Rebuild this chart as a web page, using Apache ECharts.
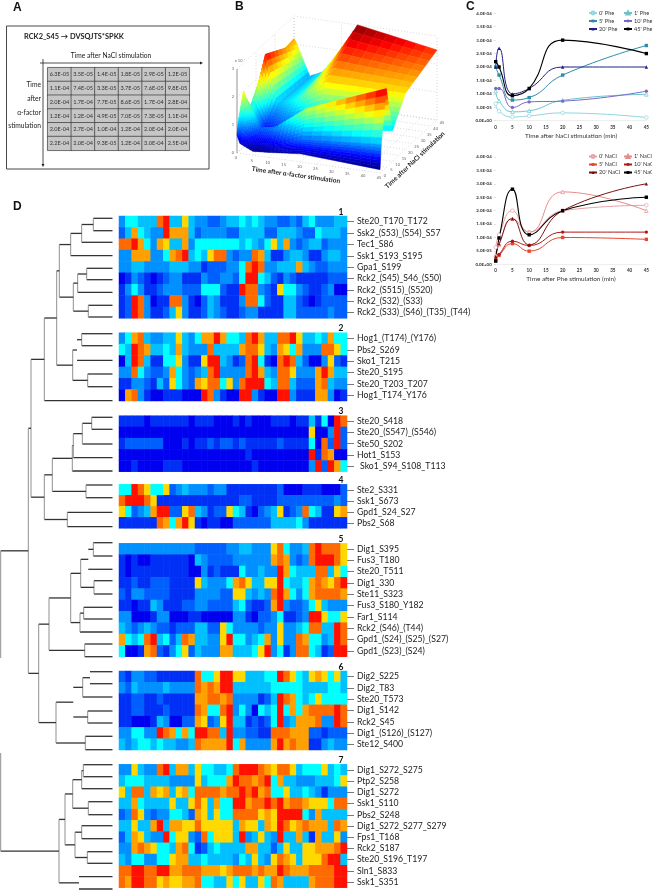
<!DOCTYPE html>
<html><head><meta charset="utf-8">
<style>html,body{margin:0;padding:0;background:#fff}#c{width:652px;height:890px}</style>
<script src="https://cdn.jsdelivr.net/npm/echarts@6/dist/echarts.min.js"></script>
</head><body><div id="c"></div>
<script>
// ---------- Panel A / C / B data (rows: alpha-factor time, columns: NaCl time)
const times = [0,1,5,10,20,45];
const phe0  = [6.3e-5,3.5e-5,1.4e-5,1.8e-5,2.9e-5,1.2e-5];
const phe1  = [1.1e-4,7.4e-5,3.3e-5,3.7e-5,7.6e-5,9.8e-5];
const phe5  = [2.0e-4,1.7e-4,7.7e-5,8.6e-5,1.7e-4,2.8e-4];
const phe10 = [1.2e-4,1.2e-4,4.9e-5,7.0e-5,7.3e-5,1.1e-4];
const phe20 = [2.0e-4,2.7e-4,1.0e-4,1.2e-4,2.0e-4,2.0e-4];
const phe45 = [2.2e-4,2.0e-4,9.3e-5,1.2e-4,3.0e-4,2.5e-4];
const tableRows = [phe0,phe1,phe5,phe10,phe20,phe45];
const zTicks = [0,1,2,3];
const timeTicks = [0,5,10,15,20,25,30,35,40,45];
const wallTicks = [0,15,30,45];

// ---------- Panel D heatmap (colour level 0-9), 36 conditions
const labels1 = ['Ste20_T170_T172','Ssk2_(S53)_(S54)_S57','Tec1_S86','Ssk1_S193_S195','Gpa1_S199','Rck2_(S45)_S46_(S50)','Rck2_(S515)_(S520)','Rck2_(S32)_(S33)','Rck2_(S33)_(S46)_(T35)_(T44)'];
const hm1 = [
[3,5,5,4,4,4, 8,9,4,4,6,4, 3,3,2,2,3,4, 4,5,4,5,4,3, 3,2,2,3,2,4, 5,3,3,3,4,4],
[2,4,7,5,4,3, 3,9,7,7,7,4, 2,3,3,3,3,2, 2,4,4,4,4,2, 2,4,4,4,3,2, 2,5,4,4,4,3],
[8,8,9,7,5,3, 7,6,4,4,7,3, 5,5,5,5,5,5, 5,4,5,4,3,5, 6,4,7,3,2,3, 4,4,2,3,3,3],
[3,3,7,7,7,3, 3,5,7,8,9,4, 5,4,6,8,8,3, 2,3,3,8,7,4, 1,1,3,4,4,3, 1,1,3,4,4,3],
[3,3,4,4,3,3, 3,3,4,4,4,3, 3,1,2,2,2,3, 3,5,8,9,8,3, 3,4,4,4,7,4, 3,2,2,3,3,3],
[0,1,3,2,1,0, 1,2,3,3,1,1, 1,3,2,2,3,3, 2,5,9,9,5,4, 2,1,3,2,1,1, 1,1,1,2,2,2],
[1,3,5,3,1,1, 2,3,3,3,2,2, 2,5,5,5,2,1, 1,9,8,8,3,2, 1,6,5,5,3,2, 1,1,2,3,0,0],
[1,2,9,8,3,0, 1,1,8,8,3,1, 0,2,4,3,1,1, 1,3,8,8,5,2, 1,1,4,4,2,1, 0,1,2,2,2,2],
[1,2,9,8,3,1, 1,2,4,6,3,1, 1,2,4,3,2,1, 1,2,3,3,1,1, 1,1,4,4,2,2, 2,2,2,3,2,2]];
const labels2 = ['Hog1_(T174)_(Y176)','Pbs2_S269','Sko1_T215','Ste20_S195','Ste20_T203_T207','Hog1_T174_Y176'];
const hm2 = [
[3,5,7,8,4,3, 3,4,4,6,4,3, 5,7,7,9,7,5, 5,4,8,9,7,4, 4,8,8,9,6,4, 4,5,4,7,5,5],
[5,4,9,8,7,4, 4,5,4,7,4,3, 3,3,8,4,4,4, 4,7,8,8,6,4, 3,7,6,5,7,3, 3,3,8,8,6,5],
[0,4,9,8,4,1, 1,5,5,6,3,1, 1,6,9,9,4,3, 1,2,8,9,5,1, 0,8,9,8,4,2, 0,0,3,6,2,1],
[3,3,8,5,3,2, 2,3,7,5,3,2, 3,4,8,9,3,3, 3,3,8,9,7,4, 3,8,8,6,3,3, 3,7,9,7,4,4],
[1,1,3,3,2,1, 4,2,6,5,3,2, 7,6,8,8,5,6, 3,8,9,9,9,5, 4,8,8,4,2,2, 2,7,8,4,3,3],
[0,7,8,3,1,0, 0,1,1,1,0,0, 0,9,8,3,1,0, 0,9,9,3,1,0, 0,9,9,3,1,1, 1,7,7,3,0,1]];
const labels3 = ['Ste20_S418','Ste20_(S547)_(S546)','Ste50_S202','Hot1_S153','Sko1_S94_S108_T113'];
const hm3 = [
[1,1,1,1,0,1, 1,1,1,1,1,0, 1,1,1,0,0,0, 1,0,1,0,0,0, 1,1,1,0,1,1, 4,1,5,0,9,8],
[0,0,0,0,0,0, 0,0,0,0,0,0, 0,0,0,0,0,0, 0,0,0,0,0,0, 0,0,0,0,0,0, 6,0,0,3,9,2],
[1,2,2,2,2,2, 2,0,0,0,1,0, 1,1,2,1,2,2, 1,2,1,1,1,1, 1,2,1,1,1,1, 5,0,8,2,9,2],
[0,0,0,0,0,0, 0,0,0,0,0,0, 0,0,0,0,0,0, 0,0,1,0,0,0, 0,0,0,0,0,0, 9,1,8,7,0,0],
[0,0,1,0,0,0, 0,1,1,1,0,0, 0,0,0,0,0,0, 0,0,0,1,0,0, 0,0,0,0,0,0, 3,9,2,9,7,5]];
const labels4 = ['Ste2_S331','Ssk1_S673','Gpd1_S24_S27','Pbs2_S68'];
const hm4 = [
[5,5,9,8,6,5, 5,6,2,3,4,3, 3,3,2,3,3,1, 1,1,1,1,1,1, 1,2,0,0,0,1, 1,1,0,0,0,2],
[8,9,9,9,8,6, 1,1,1,1,1,1, 1,1,1,1,1,1, 1,2,2,1,1,1, 1,2,2,2,2,2, 2,2,2,2,3,2],
[6,5,2,3,4,7, 9,9,2,2,6,8, 4,3,1,2,2,6, 5,4,1,0,2,3, 4,6,1,2,3,8, 5,4,1,1,6,7],
[1,1,1,1,1,1, 8,7,5,7,9,6, 1,0,1,1,0,0, 2,2,2,2,2,2, 4,4,4,4,5,3, 1,1,1,1,1,1]];
const labels5 = ['Dig1_S395','Fus3_T180','Ste20_T511','Dig1_330','Ste11_S323','Fus3_S180_Y182','Far1_S114','Rck2_(S46)_(T44)','Gpd1_(S24)_(S25)_(S27)','Gpd1_(S23)_(S24)'];
const hm5 = [
[3,3,3,3,3,3, 3,3,3,3,3,3, 2,2,2,2,2,3, 3,4,4,3,3,3, 6,8,5,3,3,4, 8,9,8,8,8,6],
[1,0,1,0,0,1, 1,1,1,1,1,0, 4,3,2,2,2,2, 3,3,3,3,3,3, 7,8,7,3,2,3, 8,9,9,9,8,6],
[1,0,1,1,1,1, 1,1,1,1,1,0, 0,3,1,2,1,1, 1,5,3,3,4,3, 3,9,7,5,4,4, 4,8,8,4,6,5],
[1,1,2,1,1,2, 2,2,1,1,1,1, 6,4,3,3,3,5, 7,8,6,4,4,6, 6,9,5,4,4,5, 7,8,7,6,8,9],
[2,1,3,3,2,2, 2,2,1,1,1,1, 3,3,3,3,2,2, 6,6,4,3,4,3, 8,9,7,5,3,5, 7,8,8,8,8,7],
[1,1,0,1,1,4, 3,1,1,1,2,2, 3,3,2,2,2,2, 4,5,2,1,1,2, 7,9,3,2,2,3, 5,6,4,3,3,3],
[3,3,0,0,0,1, 3,3,0,0,0,1, 1,0,0,0,0,0, 3,3,1,0,2,2, 3,5,1,1,2,3, 9,9,6,5,5,6],
[4,3,2,3,4,3, 2,2,1,2,2,2, 4,4,2,2,6,5, 3,3,3,3,2,3, 3,6,3,3,4,5, 8,8,4,4,9,8],
[7,5,4,5,8,9, 4,5,2,4,8,7, 4,4,3,3,6,9, 5,5,3,4,5,7, 3,6,3,3,8,7, 5,5,3,4,9,8],
[5,0,0,1,7,8, 2,1,3,5,6,2, 4,3,3,3,7,7, 4,4,4,5,6,9, 3,5,1,3,8,8, 5,4,1,2,9,9]];
const labels6 = ['Dig2_S225','Dig2_T83','Ste20_T573','Dig1_S142','Rck2_S45','Dig1_(S126)_(S127)','Ste12_S400'];
const hm6 = [
[2,1,3,3,2,2, 1,1,1,1,1,1, 8,5,5,6,9,9, 6,6,4,4,4,5, 5,9,8,6,5,4, 6,7,6,5,6,4],
[3,2,4,3,3,3, 3,4,3,3,3,3, 8,7,8,7,9,9, 4,4,4,4,4,4, 5,5,5,5,5,4, 4,4,4,5,5,4],
[1,1,2,2,1,1, 2,1,1,1,1,1, 7,7,8,8,7,8, 3,3,3,3,1,2, 4,9,8,7,5,4, 5,6,5,5,5,5],
[1,1,2,2,1,1, 1,2,1,1,1,1, 8,7,5,5,8,9, 3,5,3,0,5,4, 5,9,5,7,5,7, 8,8,8,8,9,8],
[1,1,0,0,0,1, 4,3,0,0,2,2, 7,6,2,3,6,9, 4,4,1,2,1,2, 5,9,3,4,7,7, 7,8,3,3,9,8],
[3,3,5,5,3,3, 9,8,7,5,7,5, 9,9,8,8,4,9, 3,3,2,2,1,1, 8,8,8,7,7,7, 2,2,1,2,2,2],
[4,3,4,5,5,4, 5,4,4,3,3,4, 8,7,7,7,7,9, 5,7,3,3,3,3, 7,9,7,8,7,7, 1,1,3,4,3,3]];
const labels7 = ['Dig1_S272_S275','Ptp2_S258','Dig1_S272','Ssk1_S110','Pbs2_S248','Dig1_S272_S277_S279','Fps1_T168','Rck2_S187','Ste20_S196_T197','Sln1_S833','Ssk1_S351'];
const hm7 = [
[3,3,6,4,3,3, 8,9,4,7,7,4, 6,5,5,4,4,5, 8,9,9,9,8,7, 6,8,8,6,4,5, 5,5,6,4,5,4],
[4,5,5,5,4,4, 4,4,3,3,3,3, 6,4,5,5,5,7, 9,8,8,7,8,9, 5,7,4,4,3,3, 3,4,4,4,5,6],
[6,4,8,8,4,7, 6,7,4,6,7,5, 8,8,8,8,7,8, 8,9,8,9,7,8, 5,5,6,4,4,5, 4,3,1,3,3,3],
[4,4,7,5,4,4, 4,4,6,4,4,6, 8,6,4,7,5,5, 9,9,7,8,8,9, 8,9,7,8,8,7, 6,6,6,5,8,8],
[2,3,8,6,3,2, 3,3,5,5,4,2, 7,6,4,6,5,5, 8,8,8,8,6,7, 6,9,9,9,9,5, 3,7,4,4,4,4],
[4,4,6,4,4,7, 9,4,7,7,6,6, 8,6,6,6,6,6, 4,7,6,6,4,7, 6,9,8,6,7,8, 7,7,7,4,8,7],
[2,4,7,6,4,3, 3,9,5,6,6,3, 2,8,5,6,6,6, 4,9,3,4,6,4, 3,9,4,4,7,4, 1,7,4,4,6,3],
[3,3,7,8,7,6, 5,5,4,7,8,5, 1,2,4,5,4,4, 4,4,7,7,4,4, 2,4,6,4,4,6, 6,7,7,7,8,9],
[4,3,5,5,3,3, 5,5,6,7,7,4, 4,5,4,4,4,4, 3,5,4,6,4,3, 6,8,7,6,4,6, 6,6,8,9,9,4],
[8,8,9,9,8,8, 9,9,7,7,8,8, 8,7,7,7,6,7, 8,8,8,7,8,7, 7,9,8,7,7,7, 8,8,8,8,9,9],
[8,7,9,9,8,8, 6,7,6,6,7,7, 8,5,5,4,4,6, 5,6,4,4,6,5, 8,7,4,4,4,4, 7,8,8,8,9,9]];

// ---------- Dendrogram: leaf rows and merge heights
const treeLeafY = [218.3,230.7,242.3,255.7,268.3,279.7,292.3,305.3,317,333.7,345.7,360.3,374,386.7,400.7,417.3,429.3,444,457.7,471,485,497.7,512.3,526.7,
 542.7,556,569.3,580.7,594,607.3,619,632,644,656.7,671.7,683.7,697,711,723,736.3,749.7,764.7,776.7,788.7,801.7,814.7,825.7,838.7,851.7,863.3,876.7,889];
const treeMerges =
[0.7,
 [28.3,
  [31,
   [44.3,
    [56.7,
     [59.3,
      [70.7,[81.7,[93.3,0,1],2],3],
      [73.3,[77.7,[86.7,4,5],6],[88.3,7,8]]],
     [72.7,[77,[81.7,9,10],11,1],[87.7,12,13]]],
    14],
   [44.3,
    [52.3,[72.3,[73.3,[82.3,[91.7,15,16],17],18],19],[86,20,21]],
    [67.3,22,23]]],
  [38.7,
   [49,
    [70.7,
     [80.7,[88.3,[93.3,24,25],26,1],[94,27,28]],
     [80,[83.7,29,30],31]],
    [84.7,32,33]],
   [56,
    [73.3,[82.7,[90,34,35,1],36],[87.7,37,38],1],
    [85.3,39,40]]]],
 [59,
  [65,
   [72.7,[81.7,[83.3,41,42],43],[88.3,44,45]],
   [75,[81.7,46,47],[87.3,48,49]]],
  [79,50,51,1]]];

// ---------- Helpers
const FONT='Lato';
const fmtE=v=>{const [m,e]=Number(v).toExponential(1).split('e');const n=parseInt(e);return m+'E'+(n<0?'-':'+')+String(Math.abs(n)).padStart(2,'0');};
const jet=t=>{t=Math.max(0,Math.min(1,t));
 const ch=o=>Math.round(255*Math.max(0,Math.min(1,1.5-Math.abs(4*t-o))));
 return `rgb(${ch(3)},${ch(2)},${ch(1)})`;};

// ---------- Grids
const grid=[], xAxis=[], yAxis=[], series=[], graphicEls=[];
function addGrid(g,x,y){grid.push(g);xAxis.push(Object.assign({gridIndex:grid.length-1},x));yAxis.push(Object.assign({gridIndex:grid.length-1},y));return grid.length-1;}

// Panel A table
const gT=addGrid({left:47.7,top:67.7,width:141.6,height:82.6},
 {type:'category',data:times.map(String),show:false},
 {type:'category',data:times.map(String),inverse:true,show:false});
const tableData=[];tableRows.forEach((r,j)=>r.forEach((v,i)=>tableData.push([i,j,v])));
series.push({type:'heatmap',xAxisIndex:gT,yAxisIndex:gT,data:tableData,silent:true,
 itemStyle:{color:'#c6c6c6',borderColor:'#3a3a3a',borderWidth:0.7},
 label:{show:true,fontFamily:FONT,fontSize:5.6,color:'#333',formatter:p=>fmtE(p.value[2])}});

// Overlay in picture units for tree and 3-D surface
const gO=addGrid({left:0,top:0,width:652,height:890},
 {type:'value',min:0,max:652,show:false},
 {type:'value',min:0,max:890,inverse:true,show:false});

// Dendrogram
const segs=[];
function walk(n,parentH){
 if(typeof n==='number'){const y=treeLeafY[n];segs.push([112.5,y,parentH,y,0]);return y;}
 const [h,a,b,hide]=n;const ya=walk(a,h),yb=walk(b,h);
 if(!hide)segs.push([h,ya,h,yb,1]);
 const y=(ya+yb)/2;
 if(parentH!=null)segs.push([h,y,parentH,y,0]);
 return y;
}
walk(treeMerges,null);
series.push({type:'custom',xAxisIndex:gO,yAxisIndex:gO,coordinateSystem:'cartesian2d',silent:true,clip:false,
 data:segs,renderItem:(p,api)=>{
  const a=api.coord([api.value(0),api.value(1)]),b=api.coord([api.value(2),api.value(3)]),v=api.value(4);
  return {type:'line',shape:{x1:a[0],y1:a[1],x2:b[0],y2:b[1]},style:{stroke:v?'#8f8f8f':'#333',lineWidth:v?1:1.3}};
 }});

// 3-D surface (panel B): same table as panel A, height-field drawn far to near
const O=[237,153],U=[143,20],V=[57,-53],ZH=84/3e-4;
const proj=(u,v,z)=>[O[0]+U[0]*u/45+V[0]*v/45, O[1]+U[1]*u/45+V[1]*v/45-ZH*z];
const zs=tableRows.flat(),zmin=Math.min(...zs),zmax=Math.max(...zs);
series.push({type:'custom',xAxisIndex:gO,yAxisIndex:gO,coordinateSystem:'cartesian2d',silent:true,clip:false,
 data:[[0,0]],renderItem:(p,api)=>{
  const c=[],P=(a,b,z)=>api.coord(proj(a,b,z));
  const dot={stroke:'#c0c0c0',lineWidth:0.6,lineDash:[1,2],fill:null};
  const L=(pa,pb,st)=>c.push({type:'line',shape:{x1:pa[0],y1:pa[1],x2:pb[0],y2:pb[1]},style:st||dot});
  const T=(pa,s,dx,dy)=>c.push({type:'text',x:pa[0]+dx,y:pa[1]+dy,style:{text:s,fontSize:4,fontFamily:FONT,fill:'#666',align:'center',verticalAlign:'middle'}});
  zTicks.forEach(z=>{L(P(0,0,z*1e-4),P(0,45,z*1e-4));L(P(0,45,z*1e-4),P(45,45,z*1e-4));});
  timeTicks.forEach(t=>{
   L(P(0,t,0),P(45,t,0));L(P(t,0,0),P(t,45,0));
   T(P(t,0,0),String(t),-1,5);T(P(45,t,0),String(t),5,3);
  });
  wallTicks.forEach(t=>{L(P(0,t,0),P(0,t,3e-4));L(P(t,45,0),P(t,45,3e-4));});
  zTicks.forEach(z=>T(P(0,0,z*1e-4),String(z),-4,0));
  T(P(0,0,3e-4),'x 10⁻⁴',3,-8);
  L(P(0,0,0),P(0,0,3e-4),{stroke:'#bdbdbd',lineWidth:1.6,fill:null});
  // interpolated facets, strip by strip from the far edge to the near edge
  const N=8;
  const pt=(i,j,s,t)=>{const x=times[i]+(times[i+1]-times[i])*s,y=times[j]+(times[j+1]-times[j])*t;
    const z=(1-s)*(1-t)*tableRows[j][i]+s*(1-t)*tableRows[j][i+1]+(1-s)*t*tableRows[j+1][i]+s*t*tableRows[j+1][i+1];
    return [x,y,z];};
  for(let j=4;j>=0;j--)for(let b=N-1;b>=0;b--)for(let i=0;i<5;i++)for(let a=0;a<N;a++){
   const q=[pt(i,j,a/N,b/N),pt(i,j,(a+1)/N,b/N),pt(i,j,(a+1)/N,(b+1)/N),pt(i,j,a/N,(b+1)/N)];
   const cz=q.reduce((s,k)=>s+k[2],0)/4,col=jet((cz-zmin)/(zmax-zmin));
   c.push({type:'polygon',shape:{points:q.map(k=>P(k[0],k[1],k[2]))},style:{fill:col,stroke:col,lineWidth:0.5}});
  }
  return {type:'group',children:c};
 }});

// Panel C line charts
function lineChart(top,height,title,names,colors,rows,xs){
 const g=addGrid({left:495.7,top,width:150.8,height},
  {type:'value',min:0,max:45,interval:5,name:title,nameLocation:'middle',nameGap:12,
   nameTextStyle:{fontFamily:FONT,fontSize:6.4,color:'#333'},
   axisLine:{onZero:false,lineStyle:{color:'#ddd',width:0.5}},axisTick:{show:false},splitLine:{show:false},
   axisLabel:{fontFamily:FONT,fontSize:4.6,fontWeight:'bold',color:'#333',margin:4}},
  {type:'value',min:0,max:4e-4,interval:5e-5,
   axisLine:{show:false},axisTick:{show:true,length:2,lineStyle:{color:'#bbb',width:0.5}},splitLine:{show:false},
   axisLabel:{fontFamily:FONT,fontSize:4.4,fontWeight:'bold',color:'#333',margin:4,formatter:fmtE}});
 const syms=['circle','triangle','rect','circle','triangle','rect'];
 rows.forEach((r,i)=>series.push({type:'line',name:names[i],xAxisIndex:g,yAxisIndex:g,smooth:0.5,silent:true,
  data:r.map((v,k)=>[xs[k],v]),symbol:syms[i],symbolSize:i<2?3.6:3.4,
  lineStyle:{color:colors[i],width:i===5?1.1:1},
  itemStyle:i<2?{color:'#fff',borderColor:colors[i],borderWidth:0.7}:{color:colors[i]}}));
 return g;
}
const pheNames=["0' Phe","1' Phe","5' Phe","10' Phe","20' Phe","45' Phe"];
const naclNames=["0' NaCl","1' NaCl","5' NaCl","10' NaCl","20' NaCl","45' NaCl"];
const pheColors=['#8fd6e2','#6cc4c8','#2e8ca8','#7a68c8','#1f1f86','#000000'];
const naclColors=['#e8a0a8','#e88a88','#e8452a','#b01818','#7a1010','#000000'];
lineChart(13.3,107.4,'Time after NaCl stimulation (min)',pheNames,pheColors,tableRows,times);
lineChart(157,107.3,'Time after Phe stimulation (min)',naclNames,naclColors,times.map((_,c)=>tableRows.map(r=>r[c])),times);
const leg=(left,top,data)=>({left,top,orient:'vertical',data,itemWidth:8,itemHeight:3.6,itemGap:2,padding:0,selectedMode:false,
 textStyle:{fontFamily:FONT,fontSize:5.6,color:'#333',padding:[0,0,0,-3]}});
const legend=[leg(588,10,[pheNames[0],pheNames[2],pheNames[4]]),leg(623,10,[pheNames[1],pheNames[3],pheNames[5]]),
 leg(588,153.5,[naclNames[0],naclNames[2],naclNames[4]]),leg(623,153.5,[naclNames[1],naclNames[3],naclNames[5]])];

// Panel D heat strips
const clusters=[[labels1,hm1,216,102.3],[labels2,hm2,332.7,68.3],[labels3,hm3,415.7,56],[labels4,hm4,484.3,44],[labels5,hm5,543.3,113.4],[labels6,hm6,671,79],[labels7,hm7,764.3,123.4]];
const heatIdx=[];
const colIdx=Array.from({length:36},(_,i)=>String(i+1));
clusters.forEach(([lab,hm,top,h],ci)=>{
 const g=addGrid({left:119,width:228,top,height:h},
  {type:'category',data:colIdx,show:false},
  {type:'category',data:lab,inverse:true,position:'right',
   axisLine:{show:false},axisTick:{show:true,length:7,alignWithLabel:true,lineStyle:{color:'#555',width:0.8}},
   axisLabel:{interval:0,fontFamily:FONT,fontSize:8.7,color:'#222',margin:10,
    formatter:v=>v==='Sko1_S94_S108_T113'?'{s|'+v+'}':v,rich:{s:{fontFamily:FONT,fontSize:8.7,color:'#222',padding:[0,0,0,3]}}}});
 const d=[];hm.forEach((r,j)=>r.forEach((v,i)=>d.push([i,j,v])));
 heatIdx.push(series.length);
 series.push({type:'heatmap',xAxisIndex:g,yAxisIndex:g,data:d,silent:true,progressive:0});
 graphicEls.push({type:'text',x:341,y:top-4,z:50,style:{text:String(ci+1),fontFamily:FONT,fontWeight:'bold',fontSize:8.5,fill:'#111',align:'center',verticalAlign:'middle'}});
});

// Chrome: panel letters, frame, arrows, captions
const txt=(x,y,s,o)=>graphicEls.push({type:'text',x,y,z:50,rotation:(o&&o.rot)||0,style:Object.assign({text:s,fontFamily:FONT,fontSize:6.6,fill:'#222',align:'left',verticalAlign:'middle'},o||{})});
[['A',13,8],['B',235,7],['C',466,7],['D',13,207]].forEach(([s,x,y])=>txt(x,y,s,{fontFamily:'Liberation Sans',fontWeight:'bold',fontSize:12,fill:'#111',align:'left'}));
graphicEls.push({type:'rect',z:1,shape:{x:6.5,y:26,width:202.5,height:143},style:{fill:null,stroke:'#333',lineWidth:0.9}});
txt(24,37,'RCK2_S45 → DVSQJTS*SPKK',{fontWeight:'bold',fontSize:7.4});
txt(111,56,'Time after NaCl stimulation',{align:'center',fontSize:6.7});
[['Time',85],['after',99],['α-factor',113],['stimulation',126]].forEach(([s,y])=>txt(41,y,s,{align:'right',fontSize:6.7}));
const arrow=(x1,y1,x2,y2,pts)=>{graphicEls.push({type:'line',z:5,shape:{x1,y1,x2,y2},style:{stroke:'#222',lineWidth:0.8}});
 graphicEls.push({type:'polygon',z:5,shape:{points:pts},style:{fill:'#222'}});};
arrow(40,63,201,63,[[203,63],[200,61.5],[200,64.5]]);
arrow(43,59,43,165,[[43,167],[41.5,164],[44.5,164]]);
txt(296,175,'Time after α-factor stimulation',{align:'center',fontWeight:'bold',fontSize:6.5,rot:-0.14});
txt(415,160,'Time after NaCl stimulation',{align:'center',fontWeight:'bold',fontSize:6.5,rot:0.76});
graphicEls.push({type:'rect',z:60,shape:{x:0,y:658,width:3,height:95},style:{fill:'#fff'}});

const chart=echarts.init(document.getElementById('c'),null,{renderer:'canvas'});
chart.setOption({animation:false,backgroundColor:'#fff',grid,xAxis,yAxis,legend,series,
 visualMap:{show:false,type:'continuous',min:0,max:9,seriesIndex:heatIdx,dimension:2,
  inRange:{color:['#0000f0','#0030f5','#0060ff','#0090ff','#00c0ff','#00ffff','#ffd800','#ffa000','#ff6a00','#ff1000']}},
 graphic:{elements:graphicEls}});
</script></body></html>
